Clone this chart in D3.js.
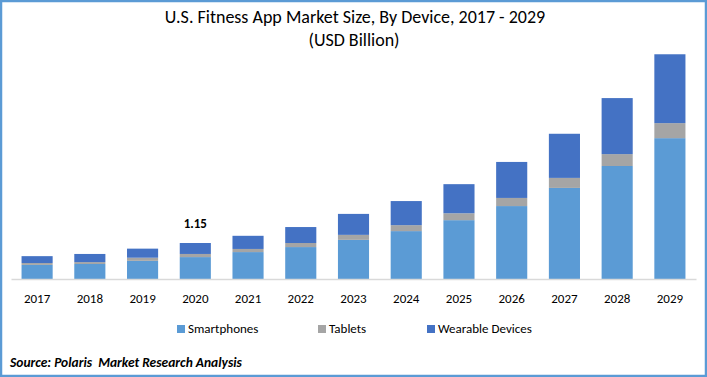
<!DOCTYPE html>
<html>
<head>
<meta charset="utf-8">
<script src="https://cdn.jsdelivr.net/npm/d3@7"></script>
<style>
  body { margin: 0; background: #fff; }
  svg { display: block; }
</style>
</head>
<body>
<svg width="707" height="377"></svg>
<script>
// ~~~~~~ DATA ~~~~~~
var years = ["2017", "2018", "2019", "2020", "2021", "2022", "2023", "2024", "2025", "2026", "2027", "2028", "2029"];
var smartphones = [0.45, 0.48, 0.58, 0.70, 0.86, 1.02, 1.25, 1.53, 1.88, 2.33, 2.91, 3.61, 4.50];
var tablets     = [0.06, 0.06, 0.10, 0.10, 0.10, 0.13, 0.16, 0.19, 0.22, 0.26, 0.32, 0.38, 0.48];
var wearables   = [0.22, 0.26, 0.29, 0.35, 0.42, 0.51, 0.67, 0.77, 0.93, 1.15, 1.41, 1.79, 2.20];
var seriesNames = ["Smartphones", "Tablets", "Wearable Devices"];
var seriesColors = ["#5b9bd5", "#a5a5a5", "#4472c4"];
var callout = {year: "2020", label: "1.15"};

var font = "Carlito, 'Liberation Sans Narrow', Lato, sans-serif";

var svg = d3.select("svg"),
    W = +svg.attr("width"),
    H = +svg.attr("height");

// outer border
svg.append("rect")
   .attr("x", 1).attr("y", 1)
   .attr("width", W - 2).attr("height", H - 2)
   .attr("fill", "#fff")
   .attr("stroke", "#5b9bd5")
   .attr("stroke-width", 2.5);

// titles
svg.append("text")
   .attr("x", 355).attr("y", 23)
   .attr("text-anchor", "middle")
   .style("font", "18px " + font)
   .attr("fill", "#000")
   .text("U.S. Fitness App Market Size, By Device, 2017 - 2029");

svg.append("text")
   .attr("x", 354).attr("y", 46)
   .attr("text-anchor", "middle")
   .style("font", "18px " + font)
   .attr("fill", "#000")
   .text("(USD Billion)");

// ~~~~~~ SCALES ~~~~~~
var x = d3.scaleBand().domain(years).range([11, 696]).paddingInner(0.41).paddingOuter(0.2);
var y = d3.scaleLinear().domain([0, 7.5]).range([279, 279 - 7.5 * 31.3]);

var rows = years.map(function(yr, i) {
  return {year: yr, s0: smartphones[i], s1: tablets[i], s2: wearables[i]};
});
var stack = d3.stack().keys(["s0", "s1", "s2"]);
var layers = stack(rows);

var bars_g = svg.append("g");
bars_g.selectAll("g.layer")
  .data(layers)
  .enter().append("g")
  .attr("class", "layer")
  .attr("fill", function(d, i) { return seriesColors[i]; })
  .selectAll("rect")
  .data(function(d) { return d; })
  .enter().append("rect")
  .attr("x", function(d) { return x(d.data.year); })
  .attr("y", function(d) { return y(d[1]); })
  .attr("width", x.bandwidth())
  .attr("height", function(d) { return y(d[0]) - y(d[1]); });

// x axis
var xAxis = svg.append("g")
  .attr("transform", "translate(0,279)")
  .call(d3.axisBottom(x).tickSize(0).tickPadding(15));
xAxis.select(".domain").attr("stroke", "#d9d9d9").attr("stroke-width", 1.5);
xAxis.selectAll("text")
  .style("font", "13px " + font)
  .attr("fill", "#000");

// value label
var ci = years.indexOf(callout.year);
svg.append("text")
   .attr("x", x(callout.year) + x.bandwidth() / 2)
   .attr("y", y(smartphones[ci] + tablets[ci] + wearables[ci]) - 15)
   .attr("text-anchor", "middle")
   .style("font", "bold 13px " + font)
   .attr("fill", "#000")
   .text(callout.label);

// legend
var legendX = [177, 318, 427];
var legend = svg.selectAll("g.legend")
  .data(seriesNames)
  .enter().append("g")
  .attr("class", "legend")
  .attr("transform", function(d, i) { return "translate(" + legendX[i] + ",325)"; });
legend.append("rect")
  .attr("width", 8).attr("height", 8)
  .attr("fill", function(d, i) { return seriesColors[i]; });
legend.append("text")
  .attr("x", 11).attr("y", 8)
  .style("font", "13px " + font)
  .attr("fill", "#000")
  .text(function(d) { return d; });

// source
svg.append("text")
   .attr("x", 10).attr("y", 367)
   .style("font", "italic bold 13.5px " + font)
   .attr("fill", "#000")
   .text("Source: Polaris  Market Research Analysis")
   .style("white-space", "pre");
</script>
</body>
</html>
